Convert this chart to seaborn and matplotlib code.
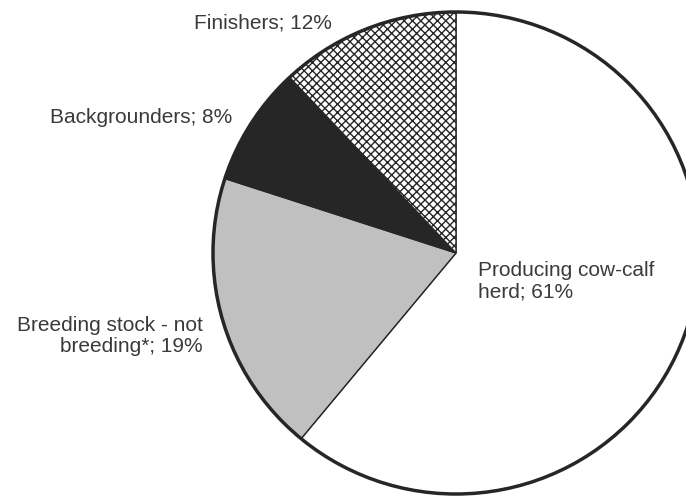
import matplotlib
matplotlib.use("Agg")
import matplotlib.pyplot as plt
import seaborn as sns
from matplotlib.patches import Circle

sns.set_theme(style="white")
plt.rcParams['font.family'] = ['Liberation Sans', 'DejaVu Sans']
plt.rcParams['hatch.linewidth'] = 1.0
plt.rcParams['hatch.color'] = '#a4a4a4'

categories = ["Producing cow-calf\nherd", "Breeding stock - not\nbreeding*", "Backgrounders", "Finishers"]
values = [61, 19, 8, 12]
colors = ["#ffffff", "#c0c0c0", "#262626", "#ffffff"]
hatches = [None, None, None, "xxxx"]

W, H = 686, 497
fig = plt.figure(figsize=(W / 100, H / 100), dpi=100)
ax = fig.add_axes([0, 0, 1, 1])

cx, cy, Rx, Ry = 456, 253, 243, 241

wedges, _ = ax.pie(values, colors=colors, startangle=90, counterclock=False,
                   radius=1, center=(0, 0), frame=True,
                   wedgeprops=dict(edgecolor='#262626', linewidth=1.0))
ax.set_xlim(-cx / Rx, (W - cx) / Rx)
ax.set_ylim(-(H - cy) / Ry, cy / Ry)
ax.set_aspect('auto')
ax.axis('off')
for w, h in zip(wedges, hatches):
    if h:
        w.set_hatch(h)
ax.add_patch(Circle((0, 0), 1, fill=False, edgecolor='#262626', linewidth=2.5, zorder=5))

def px(x, y):
    return ((x - cx) / Rx, (cy - y) / Ry)

tc = '#3a3a3a'
fs = 15
labels = [f"{c}; {v}%" for c, v in zip(categories, values)]
ax.text(*px(478, 297), labels[0], ha='left', va='baseline', fontsize=fs, color=tc, linespacing=1.1)
ax.text(*px(203, 352), labels[1], ha='right', va='baseline', fontsize=fs, color=tc, linespacing=1.15, multialignment='right')
ax.text(*px(232, 123), labels[2], ha='right', va='baseline', fontsize=fs, color=tc)
ax.text(*px(332, 29), labels[3], ha='right', va='baseline', fontsize=fs, color=tc)

fig.savefig("out.png", dpi=100)
